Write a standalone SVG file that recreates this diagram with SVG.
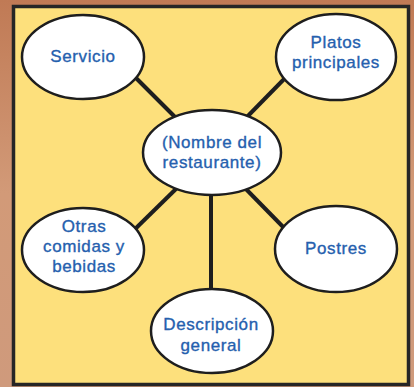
<svg xmlns="http://www.w3.org/2000/svg" width="414" height="387" viewBox="0 0 414 387">
  <defs>
    <linearGradient id="wood" x1="0" y1="0" x2="0" y2="1">
      <stop offset="0" stop-color="#c07a55"/>
      <stop offset="0.5" stop-color="#d29a78"/>
      <stop offset="1" stop-color="#cf9a7c"/>
    </linearGradient>
    <style>
      .node { fill: #ffffff; stroke: #1e1e1e; stroke-width: 2.5; }
      .lbl { font-family: "Liberation Sans", Arial, sans-serif; font-size: 17px; letter-spacing: 0.6px; fill: #2560ae; stroke: #2560ae; stroke-width: 0.35px; text-anchor: middle; }
      .conn { stroke: #1e1e1e; stroke-width: 4; stroke-linecap: butt; fill: none; }
    </style>
  </defs>
  <rect x="0" y="0" width="414" height="387" fill="url(#wood)"/>
  <rect x="13.5" y="6.5" width="395" height="378" fill="#fde07c" stroke="#262626" stroke-width="3.5"/>

  <g id="connectors">
    <line class="conn" x1="130" y1="72" x2="180" y2="122"/>
    <line class="conn" x1="290" y1="73" x2="242" y2="122"/>
    <line class="conn" x1="180" y1="185" x2="130" y2="234"/>
    <line class="conn" x1="242" y1="185" x2="290" y2="234"/>
    <line class="conn" x1="211" y1="190" x2="211" y2="295"/>
  </g>

  <g id="node-servicio">
    <ellipse class="node" cx="83" cy="57" rx="61" ry="42"/>
    <text class="lbl" x="83" y="62">Servicio</text>
  </g>
  <g id="node-platos">
    <ellipse class="node" cx="336" cy="57" rx="60" ry="43"/>
    <text class="lbl" x="336" y="48">Platos</text>
    <text class="lbl" x="336" y="68">principales</text>
  </g>
  <g id="node-centro">
    <ellipse class="node" cx="212" cy="152.5" rx="69" ry="42.5"/>
    <text class="lbl" x="212" y="148">(Nombre del</text>
    <text class="lbl" x="212" y="168">restaurante)</text>
  </g>
  <g id="node-otras">
    <ellipse class="node" cx="83" cy="250" rx="61" ry="42"/>
    <text class="lbl" x="84" y="231.5">Otras</text>
    <text class="lbl" x="84" y="251.5">comidas y</text>
    <text class="lbl" x="84" y="271.5">bebidas</text>
  </g>
  <g id="node-postres">
    <ellipse class="node" cx="336" cy="249" rx="61" ry="43"/>
    <text class="lbl" x="336" y="254">Postres</text>
  </g>
  <g id="node-descripcion">
    <ellipse class="node" cx="212" cy="331" rx="61" ry="42"/>
    <text class="lbl" x="211" y="330">Descripción</text>
    <text class="lbl" x="211" y="351">general</text>
  </g>
</svg>
